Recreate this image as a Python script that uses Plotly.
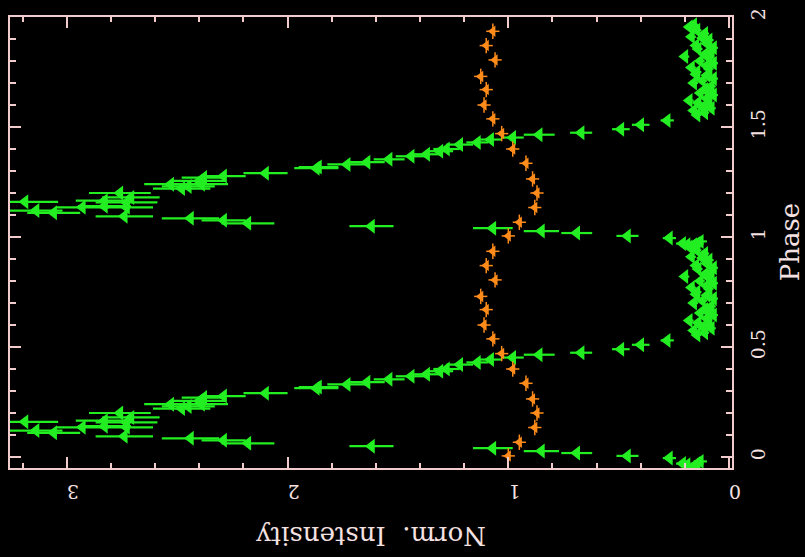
import plotly.graph_objects as go

# ---- Data (one phase cycle, plotted twice: phase and phase+1) ----
green_phase = [-0.045, -0.035, -0.03, -0.03, -0.02, -0.005, 0.005, 0.018, 0.027, 0.04,
               0.049, 0.062, 0.076, 0.085, 0.094, 0.11, 0.12, 0.135, 0.14, 0.157,
               0.165, 0.16, 0.135, 0.18, 0.20, 0.22, 0.23, 0.24, 0.24, 0.255,
               0.27, 0.277, 0.29, 0.313, 0.318, 0.33, 0.34, 0.353, 0.367, 0.376,
               0.39, 0.40, 0.42, 0.43, 0.443, 0.452, 0.465, 0.474, 0.49, 0.51,
               0.53, 0.555, 0.565, 0.575, 0.585, 0.59, 0.60, 0.61, 0.62, 0.63,
               0.645, 0.655, 0.66, 0.67, 0.685, 0.70, 0.71, 0.72, 0.735, 0.74,
               0.75, 0.765, 0.77, 0.78, 0.79, 0.80, 0.815, 0.82, 0.83, 0.84,
               0.855, 0.86, 0.87, 0.88, 0.895, 0.905, 0.91, 0.925, 0.94, 0.955,
               0.965]
green_int = [0.16, 0.19, 0.21, 0.145, 0.13, 0.27, 0.46, 0.69, 0.85, 1.07,
             1.62, 2.18, 2.29, 2.44, 2.74, 3.06, 3.14, 2.93, 2.83, 2.73,
             2.83, 3.19, 2.73, 2.71, 2.76, 2.48, 2.45, 2.53, 2.39, 2.40,
             2.38, 2.29, 2.10, 1.87, 1.86, 1.73, 1.64, 1.54, 1.44, 1.37,
             1.31, 1.28, 1.22, 1.14, 1.08, 0.98, 0.86, 0.67, 0.49, 0.40,
             0.28, 0.145, 0.11, 0.16, 0.08, 0.12, 0.09, 0.14, 0.18, 0.10,
             0.07, 0.13, 0.09, 0.11, 0.08, 0.16, 0.12, 0.07, 0.10, 0.15,
             0.145, 0.09, 0.17, 0.10, 0.07, 0.13, 0.09, 0.20, 0.11, 0.08,
             0.14, 0.07, 0.15, 0.10, 0.09, 0.12, 0.17, 0.11, 0.145, 0.18,
             0.16]
green_err = [0.03, 0.03, 0.03, 0.03, 0.03, 0.03, 0.05, 0.07, 0.08, 0.09,
             0.10, 0.12, 0.10, 0.13, 0.13, 0.12, 0.12, 0.12, 0.12, 0.14,
             0.13, 0.15, 0.12, 0.13, 0.14, 0.13, 0.12, 0.12, 0.12, 0.12,
             0.10, 0.10, 0.10, 0.10, 0.09, 0.09, 0.08, 0.07, 0.07, 0.07,
             0.06, 0.06, 0.06, 0.05, 0.05, 0.05, 0.07, 0.05, 0.04, 0.04,
             0.03, 0.02, 0.02, 0.02, 0.02, 0.02, 0.02, 0.02, 0.02, 0.02,
             0.02, 0.02, 0.02, 0.02, 0.02, 0.02, 0.02, 0.02, 0.02, 0.02,
             0.02, 0.02, 0.02, 0.02, 0.02, 0.02, 0.02, 0.02, 0.02, 0.02,
             0.02, 0.02, 0.02, 0.02, 0.02, 0.02, 0.02, 0.02, 0.02, 0.02,
             0.02]

orange_phase = [0.005, 0.067, 0.134, 0.20, 0.264, 0.335, 0.40, 0.47, 0.537, 0.60,
                0.67, 0.73, 0.805, 0.87, 0.935]
orange_int = [1.00, 0.95, 0.88, 0.87, 0.89, 0.92, 0.98, 1.03, 1.07, 1.11,
              1.10, 1.125, 1.06, 1.10, 1.07]
orange_xerr = [0.03] * len(orange_int)
orange_yerr = [0.035] * len(orange_int)

x_ticks = [0, 1, 2, 3]
y_ticks = [0, 0.5, 1, 1.5, 2]
y_ticklabels = ["0", "0.5", "1", "1.5", "2"]

FRAME = "#f2cccc"
TEXT = "#f5e1e1"
GREEN = "#22ee22"
ORANGE = "#ff8c1a"
FONT = "DejaVu Serif"

gp = green_phase + [p + 1 for p in green_phase]
gi = green_int + green_int
ge = green_err + green_err
op = orange_phase + [p + 1 for p in orange_phase]
oi = orange_int + orange_int
oxe = orange_xerr + orange_xerr
oye = orange_yerr + orange_yerr

fig = go.Figure()
fig.add_trace(go.Scatter(
    x=gi, y=gp, mode="markers",
    marker=dict(symbol="triangle-left", size=13, color=GREEN, line=dict(width=0)),
    error_x=dict(type="data", array=ge, color=GREEN, thickness=2.2, width=0),
    showlegend=False,
))
fig.add_trace(go.Scatter(
    x=oi, y=op, mode="markers",
    marker=dict(symbol="triangle-left", size=10, color=ORANGE, line=dict(width=0)),
    error_x=dict(type="data", array=oxe, color=ORANGE, thickness=1.5, width=0),
    error_y=dict(type="data", array=oye, color=ORANGE, thickness=1.5, width=0),
    showlegend=False,
))

axis_common = dict(
    showgrid=False, zeroline=False, showline=True, linecolor=FRAME, linewidth=2,
    mirror="allticks", ticks="inside", ticklen=11, tickwidth=1.5, tickcolor=FRAME,
    tickfont=dict(family=FONT, size=19, color=TEXT),
)
fig.update_layout(
    width=805, height=557,
    margin=dict(l=8, r=73, t=10, b=89),
    paper_bgcolor="black", plot_bgcolor="black",
    xaxis=dict(range=[3.258, -0.0136], tickvals=x_ticks, tickangle=180,
               ticklabelstandoff=11,
               minor=dict(ticks="inside", ticklen=5, dtick=0.2, tick0=0,
                          tickcolor=FRAME, tickwidth=1.5),
               **axis_common),
    yaxis=dict(range=[-0.05, 2.0], side="right", tickvals=y_ticks,
               ticktext=y_ticklabels, tickangle=-90, ticklabelstandoff=8,
               minor=dict(ticks="inside", ticklen=6, dtick=0.1, tick0=0,
                          tickcolor=FRAME, tickwidth=1.5),
               **axis_common),
    annotations=[
        dict(text="Norm.\u00a0 Instensity", xref="paper", yref="paper",
             x=0.5, y=-0.1507, xanchor="center", yanchor="middle",
             textangle=180, showarrow=False,
             font=dict(family=FONT, size=26, color=TEXT)),
        dict(text="Phase", xref="paper", yref="paper",
             x=1.080, y=0.5, xanchor="center", yanchor="middle",
             textangle=-90, showarrow=False,
             font=dict(family=FONT, size=26, color=TEXT)),
    ],
)

fig.write_html("out.html")
